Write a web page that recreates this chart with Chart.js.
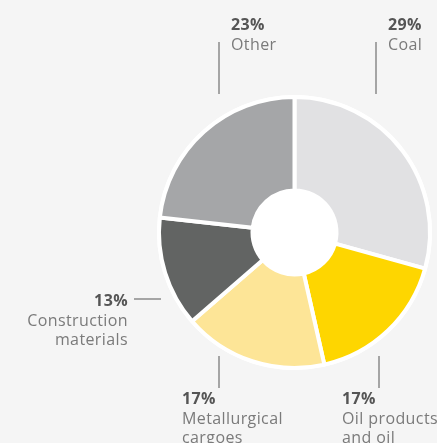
<!DOCTYPE html>
<html>
<head>
<meta charset="utf-8">
<script src="https://cdn.jsdelivr.net/npm/chart.js@4/dist/chart.umd.min.js"></script>
<style>
  html, body { margin: 0; padding: 0; background: #f5f5f5; }
  #wrap { position: relative; width: 437px; height: 443px; overflow: hidden; }
</style>
</head>
<body>
<div id="wrap"><canvas id="chart" width="437" height="443"></canvas></div>
<script>
// cargo structure, share in %
const categories = [['Coal'], ['Oil products', 'and oil'], ['Metallurgical', 'cargoes'], ['Construction', 'materials'], ['Other']];
const shares = [29, 17, 17, 13, 23];
const shareLabels = ['29%', '17%', '17%', '13%', '23%'];
const colors = ['#e1e1e3', '#fed600', '#fde597', '#626463', '#a5a6a8'];

// where each caption sits and how its leader line runs
const captions = [
  { x: 388, y: 30, align: 'left', line: [376, 42, 376, 94] },
  { x: 342, y: 404, align: 'left', line: [379, 356, 379, 388] },
  { x: 182, y: 404, align: 'left', line: [219, 356, 219, 388] },
  { x: 128, y: 306, align: 'right', line: [134, 299, 161, 299] },
  { x: 231, y: 30, align: 'left', line: [219, 42, 219, 94] }
];

const whiteHole = {
  id: 'whiteHole',
  beforeDatasetsDraw(chart) {
    const arc = chart.getDatasetMeta(0).data[0];
    if (!arc) return;
    const c = chart.ctx;
    c.save();
    c.fillStyle = '#ffffff';
    c.beginPath();
    c.arc(arc.x, arc.y, arc.outerRadius + 2, 0, Math.PI * 2);
    c.fill();
    c.restore();
  }
};

const captionPlugin = {
  id: 'captions',
  afterDraw(chart) {
    const c = chart.ctx;
    c.save();
    c.letterSpacing = '0.4px';
    captions.forEach((cap, i) => {
      c.strokeStyle = '#8a8a8a';
      c.lineWidth = 1.5;
      c.beginPath();
      c.moveTo(cap.line[0], cap.line[1]);
      c.lineTo(cap.line[2], cap.line[3]);
      c.stroke();

      c.textAlign = cap.align;
      c.textBaseline = 'alphabetic';
      c.fillStyle = '#555555';
      c.font = 'bold 16px "Open Sans"';
      c.fillText(shareLabels[i], cap.x, cap.y);
      c.fillStyle = '#7a7a7a';
      c.font = '16px "Open Sans"';
      categories[i].forEach((txt, j) => {
        c.fillText(txt, cap.x, cap.y + 20 + j * 18.5);
      });
    });
    c.restore();
  }
};

new Chart(document.getElementById('chart'), {
  type: 'doughnut',
  data: {
    labels: categories.map(l => l.join(' ')),
    datasets: [{
      data: shares,
      backgroundColor: colors,
      borderColor: '#ffffff',
      borderWidth: 4
    }]
  },
  options: {
    responsive: false,
    animation: false,
    cutout: '31%',
    rotation: 0,
    layout: { padding: { left: 157, top: 95, right: 5, bottom: 73 } },
    plugins: {
      legend: { display: false },
      tooltip: { enabled: false }
    }
  },
  plugins: [whiteHole, captionPlugin]
});
</script>
</body>
</html>
